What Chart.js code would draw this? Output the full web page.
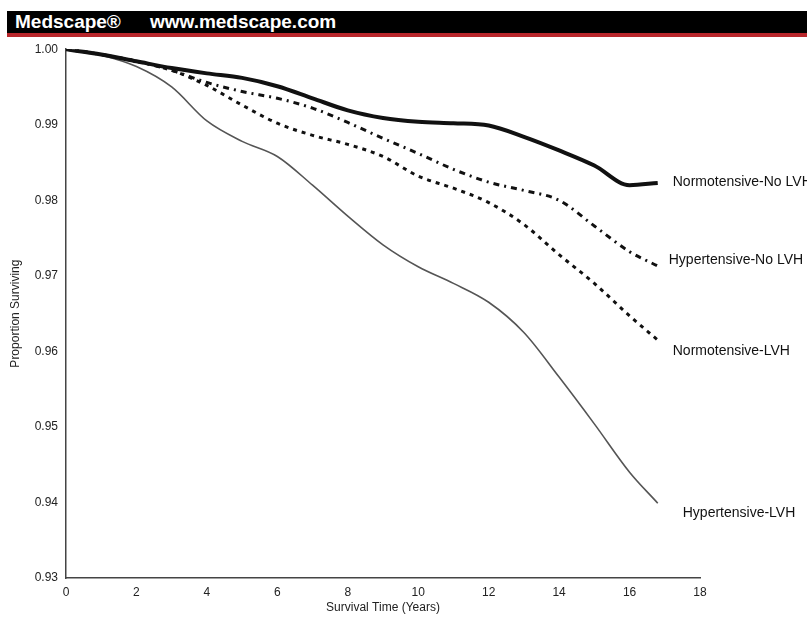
<!DOCTYPE html>
<html>
<head>
<meta charset="utf-8">
<script src="https://cdn.jsdelivr.net/npm/chart.js@4/dist/chart.umd.min.js"></script>
<style>
body { margin: 0; background: #fff; width: 807px; height: 628px; overflow: hidden; position: relative; font-family: Arial, "Liberation Sans", sans-serif; }
#bar { position: absolute; left: 7px; top: 11px; width: 800px; height: 22px; background: #000; border-bottom: 4px solid #b8262b; }
#bar span { position: absolute; top: 0; line-height: 22px; color: #fff; font-weight: bold; font-size: 19px; }
#wrap { position: absolute; left: 0; top: 38px; width: 807px; height: 590px; }
</style>
</head>
<body>
<div id="bar"><span style="left:8px">Medscape®</span><span style="left:143px">www.medscape.com</span></div>
<div id="wrap"><canvas id="myChart"></canvas></div>
<script>
// survival time in years, shared by all four curves
const years = [0, 1, 2, 3, 4, 5, 6, 7, 8, 9, 10, 11, 12, 13, 14, 15, 16, 16.8];

const normNoLvh = [1.0000, 0.9993, 0.9984, 0.9975, 0.9968, 0.9962, 0.9951, 0.9935, 0.9919, 0.9909, 0.9904, 0.9902, 0.9899, 0.9884, 0.9866, 0.9846, 0.9820, 0.9823];
const hypNoLvh = [1.0000, 0.9993, 0.9984, 0.9972, 0.9956, 0.9944, 0.9935, 0.9922, 0.9903, 0.9882, 0.9862, 0.9841, 0.9824, 0.9813, 0.9800, 0.9766, 0.9732, 0.9713];
const normLvh = [1.0000, 0.9993, 0.9984, 0.9972, 0.9952, 0.9926, 0.9902, 0.9886, 0.9874, 0.9858, 0.9832, 0.9816, 0.9797, 0.9768, 0.9728, 0.9690, 0.9647, 0.9615];
const hypLvh = [1.0000, 0.9992, 0.9977, 0.9950, 0.9905, 0.9878, 0.9858, 0.9820, 0.9779, 0.9741, 0.9712, 0.9690, 0.9665, 0.9625, 0.9566, 0.9504, 0.9440, 0.9399];

const seriesNames = ['Normotensive-No LVH', 'Hypertensive-No LVH', 'Normotensive-LVH', 'Hypertensive-LVH'];

// where each end label sits relative to the last point (px)
const labelOffsets = [[15, -1], [11, -6], [15, 11], [25, 10]];

function pts(vals) {
    return years.map((x, i) => ({ x: x, y: vals[i] }));
}

const endLabels = {
    id: 'endLabels',
    afterDatasetsDraw(chart) {
        const ctx = chart.ctx;
        ctx.save();
        ctx.font = '14px Arial, "Liberation Sans", sans-serif';
        ctx.fillStyle = '#111';
        ctx.textBaseline = 'middle';
        ctx.textAlign = 'left';
        chart.data.datasets.forEach((ds, i) => {
            const el = chart.getDatasetMeta(i).data;
            const last = el[el.length - 1];
            ctx.fillText(ds.label, last.x + labelOffsets[i][0], last.y + labelOffsets[i][1]);
        });
        ctx.restore();
    }
};

const axisFont = { family: 'Arial, "Liberation Sans", sans-serif', size: 12 };

new Chart(document.getElementById('myChart'), {
    type: 'line',
    data: {
        datasets: [{
            label: seriesNames[0],
            data: pts(normNoLvh),
            borderColor: '#111',
            borderWidth: 4
        }, {
            label: seriesNames[1],
            data: pts(hypNoLvh),
            borderColor: '#111',
            borderWidth: 3,
            borderDash: [6, 5, 2, 5]
        }, {
            label: seriesNames[2],
            data: pts(normLvh),
            borderColor: '#111',
            borderWidth: 3,
            borderDash: [4, 5]
        }, {
            label: seriesNames[3],
            data: pts(hypLvh),
            borderColor: '#555',
            borderWidth: 1.6
        }]
    },
    options: {
        responsive: true,
        maintainAspectRatio: false,
        animation: false,
        events: [],
        elements: {
            point: { radius: 0 },
            line: { cubicInterpolationMode: 'monotone', fill: false }
        },
        layout: { padding: { top: 9, right: 107, bottom: 0, left: 0 } },
        plugins: { legend: { display: false }, tooltip: { enabled: false } },
        scales: {
            x: {
                type: 'linear',
                min: 0,
                max: 18,
                afterFit: s => { s.height = 50; },
                grid: { display: false, drawTicks: true, tickLength: 4, color: '#444' },
                border: { display: true, color: '#444', width: 1.5 },
                ticks: { stepSize: 2, color: '#222', font: axisFont, padding: 3, maxRotation: 0 },
                title: { display: true, text: 'Survival Time (Years)', color: '#222', font: axisFont, padding: { top: 4, bottom: 13 } }
            },
            y: {
                min: 0.93,
                max: 1.0,
                afterFit: s => { s.width = 66; },
                grid: { display: false, drawTicks: true, tickLength: 4, color: '#444' },
                border: { display: true, color: '#444', width: 1.5 },
                ticks: { stepSize: 0.01, color: '#222', font: axisFont, padding: 4, callback: v => v.toFixed(2) },
                title: { display: true, text: 'Proportion Surviving', color: '#222', font: axisFont, padding: { top: 8, bottom: 4 } }
            }
        }
    },
    plugins: [endLabels]
});
</script>
</body>
</html>
